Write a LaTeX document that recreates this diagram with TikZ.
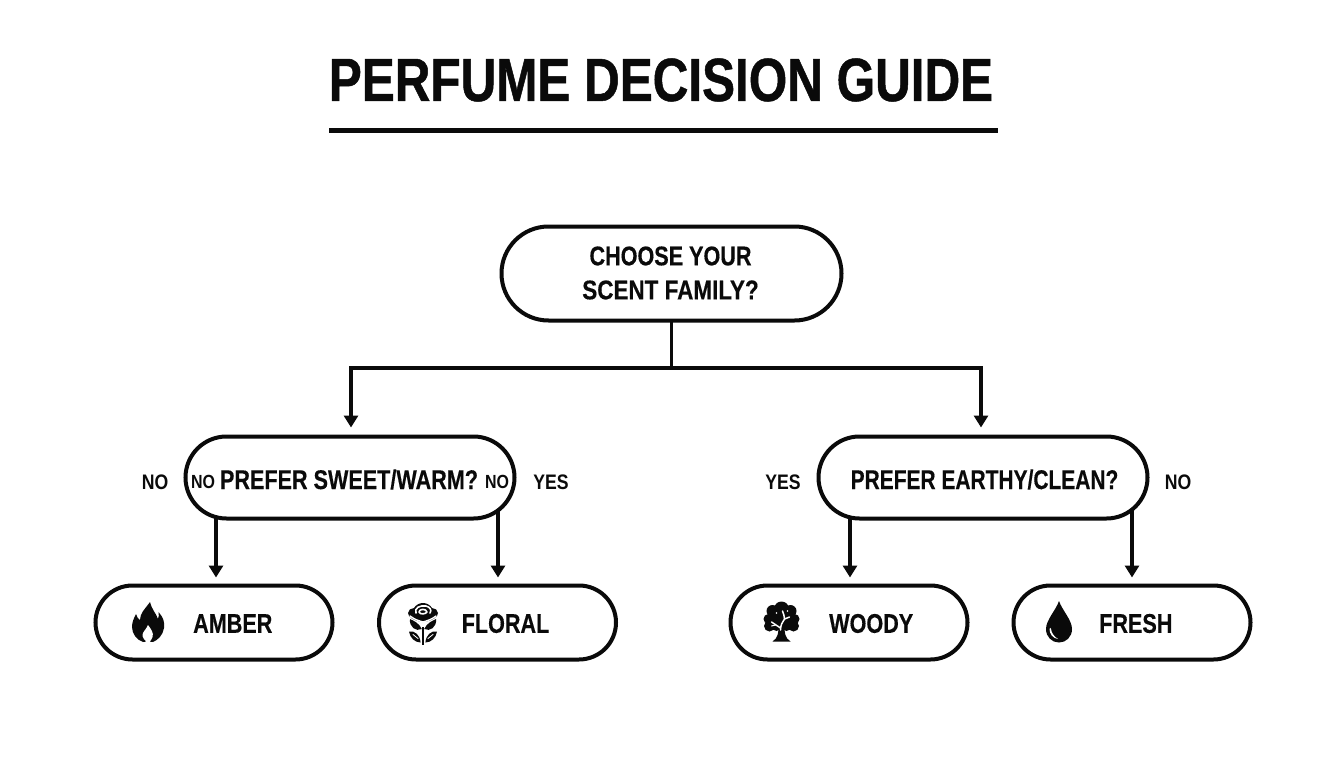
\documentclass[tikz,border=0pt]{standalone}
\usepackage{graphicx}
\usepackage{fontspec}
\setmainfont{Liberation Sans}[BoldFont=* Bold]
\newfontfamily\condfont{Liberation Sans Bold}[FakeStretch=0.80,FakeBold=0.3]
\newfontfamily\sidefont{Liberation Sans Bold}[FakeStretch=0.84]
\newfontfamily\titlefont{Liberation Sans Bold}[FakeStretch=0.81,FakeBold=0.8]
\usetikzlibrary{shapes.misc,arrows.meta}
\definecolor{ink}{HTML}{0A0A0A}
\tikzset{
 pill/.style={rounded rectangle,draw=ink,line width=4pt,outer sep=0pt,inner sep=0pt},
 conn/.style={draw=ink,line width=3.2pt},
 arr/.style={conn,-{Triangle[length=12pt,width=14pt]}},
 txt/.style={font=\condfont\fontsize{27}{27}\selectfont,text=ink,inner sep=0pt},
 side/.style={font=\sidefont\fontsize{21}{21}\selectfont,text=ink,inner sep=0pt},
 small/.style={font=\sidefont\fontsize{19}{19}\selectfont,text=ink,inner sep=0pt},
 icon/.style={fill=ink,draw=none},
 cut/.style={fill=white,draw=none},
 cutline/.style={draw=white,line cap=round,line join=round},
}
\begin{document}
\begin{tikzpicture}[x=1pt,y=-1pt]
\useasboundingbox (0,0) rectangle (1344,768);
\fill[white] (0,0) rectangle (1344,768);
% title
\node[font=\titlefont\fontsize{61}{61}\selectfont,text=ink,inner sep=0pt] (title) at (661,80) {PERFUME DECISION GUIDE};
\coordinate (ruleL) at (329,130);
\coordinate (ruleR) at (998,130);
\draw[draw=ink,line width=5pt] (ruleL) -- (ruleR);
% nodes
\node[pill,minimum width=340pt,minimum height=94pt] (root) at (671.5,273.5) {};
\node[txt] (rootA) at (670.5,256) {CHOOSE YOUR};
\node[txt] (rootB) at (670.5,290) {\scalebox{1.04}[1]{SCENT FAMILY?}};
\node[pill,minimum width=329pt,minimum height=82pt] (left) at (350,477.5) {};
\node[pill,minimum width=329pt,minimum height=82pt] (right) at (983,477.5) {};
\node[txt] (leftT) at (349,479.5) {PREFER SWEET/WARM?};
\node[txt] (rightT) at (984.5,479.5) {\scalebox{.97}[1]{PREFER EARTHY/CLEAN?}};
\node[side] (n1) at (155,482) {NO};
\node[small] (n2) at (203,482) {NO};
\node[small] (n3) at (497,482) {NO};
\node[side] (y1) at (551,482) {YES};
\node[side] (y2) at (783,482) {YES};
\node[side] (n4) at (1178,482) {NO};
\node[pill,minimum width=237pt,minimum height=74pt] (amber) at (214,622.5) {};
\node[pill,minimum width=237pt,minimum height=74pt] (floral) at (497.5,622.5) {};
\node[pill,minimum width=237pt,minimum height=74pt] (woody) at (849,622.5) {};
\node[pill,minimum width=237pt,minimum height=74pt] (fresh) at (1132,622.5) {};
\node[txt,anchor=west] (amberT) at (193,623.5) {AMBER};
\node[txt,anchor=west] (floralT) at (461.5,623.5) {FLORAL};
\node[txt,anchor=west] (woodyT) at (829,623.5) {WOODY};
\node[txt,anchor=west] (freshT) at (1099,623.5) {FRESH};
% connectors
\coordinate (jn) at (root.south |- 0,368);
\coordinate (jl) at (351,368);
\coordinate (jr) at (981,368);
\draw[conn] (root.south) -- (jn);
\draw[conn,line cap=rect] (jl) -- (jr);
\draw[arr,shorten >=9pt] (jl) -- (jl |- left.north);
\draw[arr,shorten >=9pt] (jr) -- (jr |- right.north);
\draw[arr,shorten >=8pt] ([xshift=2pt,yshift=2pt]left.south -| amber.north) -- ([xshift=2pt]amber.north);
\draw[arr,shorten >=8pt] ([xshift=.5pt,yshift=8pt]left.south -| floral.north) -- ([xshift=.5pt]floral.north);
\draw[arr,shorten >=8pt] ([xshift=1pt,yshift=2pt]right.south -| woody.north) -- ([xshift=1pt]woody.north);
\draw[arr,shorten >=8pt] ([yshift=8pt]right.south -| fresh.north) -- (fresh.north);
% flame
\begin{scope}[shift={(148,622)}]
\fill[icon] (2,-20) .. controls (4,-12) and (8,-9) .. (10,-3) .. controls (11,-5) and (11,-8) .. (10.5,-10)
 .. controls (15,-5) and (17,0) .. (16,6) .. controls (15,13) and (10,18) .. (5,20)
 .. controls (3,20) and (2,20) .. (1,18) -- (-1,18) .. controls (-2,20) and (-4,20) .. (-5,20)
 .. controls (-11,18) and (-16,12) .. (-16,5) .. controls (-16,0) and (-14,-4) .. (-12,-8)
 .. controls (-11,-5) and (-10,-3) .. (-8,-2) .. controls (-8,-9) and (-3,-13) .. (2,-20) -- cycle;
\fill[cut] (0,3) .. controls (3,7) and (6,11) .. (4.5,15) .. controls (4,18) and (2,19) .. (1,20) -- (-1,20) .. controls (-3,18) and (-5,17) .. (-5.5,14) .. controls (-6,10) and (-2,8) .. (0,3) -- cycle;
\end{scope}
% rose
\begin{scope}[shift={(423,623)}]
\fill[icon] (0,-20) .. controls (4,-20) and (7,-18) .. (9,-15) .. controls (12,-15) and (15,-13) .. (15,-10) .. controls (15,-6) and (9,-2) .. (0,-1) .. controls (-9,-2) and (-15,-6) .. (-15,-10) .. controls (-15,-13) and (-12,-15) .. (-9,-15) .. controls (-7,-18) and (-4,-20) .. (0,-20) -- cycle;
\draw[cutline,line width=1.6pt] (-7,-10) .. controls (-9,-15) and (-3,-18) .. (3,-17) .. controls (7,-16) and (9,-13) .. (7,-10);
\draw[cutline,line width=1.6pt] (-4,-11) .. controls (-4,-14) and (3,-15) .. (4,-11) .. controls (3,-9) and (-3,-8) .. (-4,-11) -- cycle;
\draw[cutline,line width=1.4pt] (-13,-7) .. controls (-8,-3) and (-3,-2) .. (0,-1) .. controls (3,-2) and (8,-3) .. (13,-7);
\fill[icon] (-13,-4) .. controls (-9,-2) and (-4,0) .. (-1.2,6) .. controls (-7,9) and (-14,4) .. (-13,-4) -- cycle;
\fill[icon] (13,-4) .. controls (9,-2) and (4,0) .. (1.2,6) .. controls (7,9) and (14,4) .. (13,-4) -- cycle;
\fill[icon] (-1.4,4) rectangle (1.4,22);
\fill[icon] (-14,8.5) .. controls (-8,7.5) and (-3,12) .. (-2.4,19.5) .. controls (-8,19.5) and (-13,15) .. (-14,8.5) -- cycle;
\fill[icon] (14,8.5) .. controls (8,7.5) and (3,12) .. (2.4,19.5) .. controls (8,19.5) and (13,15) .. (14,8.5) -- cycle;
\draw[cutline,line width=.8pt] (-10,11.5) -- (-5,15.5);
\draw[cutline,line width=.8pt] (10,11.5) -- (5,15.5);
\end{scope}
% tree
\begin{scope}[shift={(781.5,622)}]
\fill[icon] (0,-13) circle [radius=7.5] (-9,-11) circle [radius=6] (9,-11) circle [radius=6] (-13,-3) circle [radius=5] (13,-3) circle [radius=5]
 (-12,4) circle [radius=5.5] (12,4) circle [radius=5.5] (-5,5) circle [radius=4] (5,5) circle [radius=4] (0,-4) ellipse [x radius=12,y radius=9];
\fill[icon] (-3,4) .. controls (-3,11) and (-3.5,16) .. (-9,19.5) -- (9,19.5) .. controls (3.5,16) and (3,11) .. (3,4) -- cycle;
\draw[cutline,line width=1.5pt] (-1,8) .. controls (-1,3) and (1,0) .. (3,-3) .. controls (4,-6) and (1,-8) .. (1,-11);
\draw[cutline,line width=1.5pt] (3,-3) -- (8,-5);
\draw[cutline,line width=1.5pt] (-1,6) -- (-10,0);
\draw[cutline,line width=1pt] (-6,3) -- (-10,4);
\fill[white] (-5,-9) circle [radius=.9] (6,-11) circle [radius=.8];
\end{scope}
% drop
\begin{scope}[shift={(1059,622)}]
\fill[icon] (0,-21) .. controls (3,-12) and (13,-2) .. (13,7) .. controls (13,15) and (7,20.5) .. (0,20.5) .. controls (-7,20.5) and (-13,15) .. (-13,7) .. controls (-13,-2) and (-3,-12) .. (0,-21) -- cycle;
\fill[cut] (-9.5,7) .. controls (-9.5,12) and (-6,16.5) .. (-1,17) .. controls (-5,14.5) and (-7.5,11) .. (-8,7) .. controls (-8,5.5) and (-9.5,5.5) .. (-9.5,7) -- cycle;
\end{scope}
\end{tikzpicture}
\end{document}
